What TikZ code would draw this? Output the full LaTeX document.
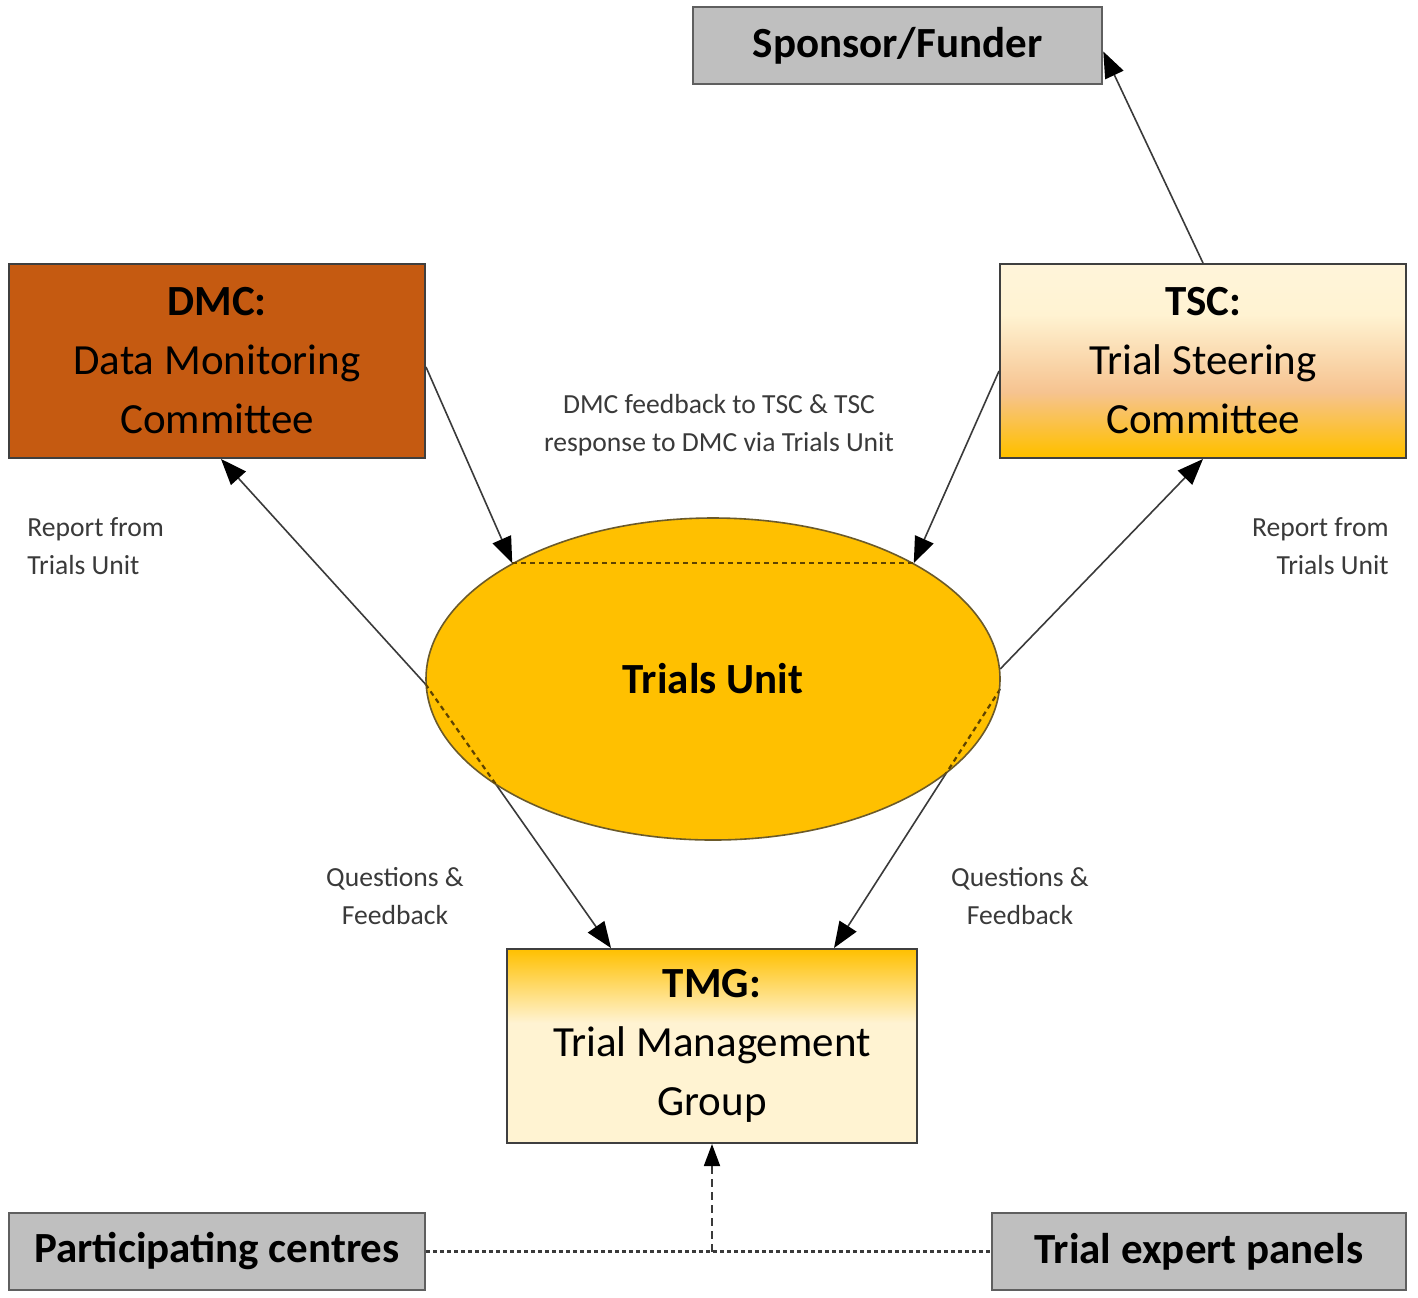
\documentclass[tikz,border=0pt]{standalone}
\usepackage{fontspec}
\setmainfont{Carlito}
\usetikzlibrary{shapes.geometric,arrows.meta}
\definecolor{gold}{HTML}{FFC000}
\definecolor{cream}{HTML}{FFF3D2}
\definecolor{creamtop}{HTML}{FFF4DA}
\definecolor{peach}{HTML}{F6C390}
\definecolor{grayfill}{HTML}{BFBFBF}
\definecolor{grayline}{HTML}{5F5F5F}
\definecolor{dmcfill}{HTML}{C55A11}
\definecolor{boxline}{HTML}{3F3F3F}
\definecolor{lineg}{HTML}{3A3A3A}
\definecolor{ellline}{HTML}{6B5A2A}
\definecolor{dashcol}{HTML}{5E4300}
\definecolor{lblcol}{HTML}{3A3A3A}
\pgfdeclareverticalshading{tscshade}{100bp}{color(0bp)=(gold); color(26bp)=(gold); color(42bp)=(peach); color(62bp)=(cream); color(75bp)=(creamtop); color(100bp)=(creamtop)}
\pgfdeclareverticalshading{tmgshade}{100bp}{color(0bp)=(cream); color(56bp)=(cream); color(75bp)=(gold); color(100bp)=(gold)}
\newcommand{\dgboxfont}{\fontsize{21.5pt}{29.5pt}\selectfont}
\newcommand{\dglblfont}{\fontsize{13.8pt}{18.8pt}\selectfont}
\pgfdeclarelayer{bg}
\pgfsetlayers{bg,main}
\begin{document}
\begin{tikzpicture}[x=0.5pt,y=-0.5pt,
  conn/.style={draw=lineg, line width=0.8pt, -{Triangle[length=13pt,width=10pt,color=black]}},
  box/.style={rectangle, draw=boxline, line width=1pt, align=center, inner sep=0pt, font=\dgboxfont, text=black},
  graybox/.style={box, fill=grayfill, draw=grayline, line width=1.3pt, font=\bfseries\dgboxfont},
  lbl/.style={font=\dglblfont, text=lblcol, inner sep=0pt},
  inner/.style={draw=dashcol, line width=1.1pt, dash pattern=on 2.5pt off 2pt}]
\useasboundingbox (0,0) rectangle (1418,1297);
\begin{pgfonlayer}{bg}
\fill[white] (0,0) rectangle (1418,1297);
\end{pgfonlayer}

% nodes
\node[graybox, minimum width=204.5pt, minimum height=38.5pt] (sp) at (897.5,45.5) {Sponsor/Funder};
\node[box, fill=dmcfill, minimum width=208pt, minimum height=97pt] (dmc) at (217,361)
  {\textbf{DMC:}\\Data Monitoring\\Committee};
\node[box, shading=tscshade, minimum width=203pt, minimum height=97pt] (tsc) at (1203,361)
  {\textbf{TSC:}\\Trial Steering\\Committee};
\node[ellipse, draw=ellline, line width=0.8pt, fill=gold, minimum width=287pt, minimum height=161pt,
  inner sep=0pt, font=\bfseries\dgboxfont] (tu) at (713,679) {Trials Unit};
\node[box, shading=tmgshade, minimum width=205pt, minimum height=97pt] (tmg) at (712,1046)
  {\textbf{TMG:}\\Trial Management\\Group};
\node[graybox, minimum width=208pt, minimum height=38.5pt] (pc) at (217,1251.5) {Participating centres};
\node[graybox, minimum width=207pt, minimum height=38.5pt] (tep) at (1199,1251.5) {Trial expert panels};

% labels
\node[lbl, anchor=west, align=left] (l1) at (27,546) {Report from\\Trials Unit};
\node[lbl, anchor=east, align=right] (l2) at (1389,546) {Report from\\Trials Unit};
\node[lbl, align=center] (l3) at (395,896) {Questions \&\\Feedback};
\node[lbl, align=center] (l4) at (1020,896) {Questions \&\\Feedback};
\node[lbl, align=center] (l5) at (719,425) {DMC feedback to TSC \& TSC\\response to DMC via Trials Unit};

% coordinates
\coordinate (qlt) at ([xshift=52.5pt]tmg.north west);
\coordinate (qrt) at ([xshift=-42pt]tmg.north east);
\coordinate (mid) at (tmg.south |- pc.east);

% connectors
\draw[conn] (tsc.north) -- ([yshift=-3pt]sp.east);
\draw[conn] ([yshift=-3pt]dmc.east) -- (tu.150);
\draw[conn] ([yshift=-5pt]tsc.west) -- (tu.30);
\draw[inner] (tu.150) -- (tu.30);
\draw[conn] (tu.181) -- ([xshift=2pt]dmc.south);
\draw[conn] (tu.2) -- (tsc.south);
\begin{pgfonlayer}{bg}
\draw[conn] (tu.181) -- (qlt);
\draw[conn] (tu.358) -- (qrt);
\end{pgfonlayer}
\begin{scope}
\clip (tu.center) ellipse [x radius=143.5pt, y radius=80.5pt];
\draw[inner] (tu.181) -- (qlt);
\draw[inner] (tu.358) -- (qrt);
\end{scope}
\draw[draw=lineg, line width=1.1pt, dash pattern=on 2pt off 1.5pt] (pc.east) -- (tep.west);
\draw[draw=lineg, line width=0.9pt, dash pattern=on 4pt off 2.5pt, -{Triangle[length=11pt,width=8pt,color=black]}] (mid) -- (tmg.south);
\end{tikzpicture}
\end{document}
